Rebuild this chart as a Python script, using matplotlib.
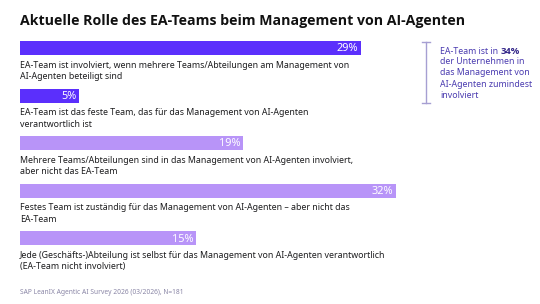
import matplotlib
matplotlib.use("Agg")
import matplotlib.pyplot as plt

# Daten
labels = [
    "EA-Team ist involviert, wenn mehrere Teams/Abteilungen am Management von\nAI-Agenten beteiligt sind",
    "EA-Team ist das feste Team, das für das Management von AI-Agenten\nverantwortlich ist",
    "Mehrere Teams/Abteilungen sind in das Management von AI-Agenten involviert,\naber nicht das EA-Team",
    "Festes Team ist zuständig für das Management von AI-Agenten – aber nicht das\nEA-Team",
    "Jede (Geschäfts-)Abteilung ist selbst für das Management von AI-Agenten verantwortlich\n(EA-Team nicht involviert)",
]
values = [29, 5, 19, 32, 15]
ea_involved = [True, True, False, False, False]

title = "Aktuelle Rolle des EA-Teams beim Management von AI-Agenten"
note_pre = "EA-Team ist in "
note_bold = "34%"
note_rest = "der Unternehmen in\ndas Management von\nAI-Agenten zumindest\ninvolviert"
source = "SAP LeanIX Agentic AI Survey 2026 (03/2026), N=181"

dark = "#5b2ffc"
light = "#b894f8"
txt = "#1d1d1f"
note_col = "#4a3bb0"

plt.rcParams["font.family"] = ["Noto Sans", "DejaVu Sans"]
bold_font = ["Open Sans", "DejaVu Sans"]

W, H = 540, 304
fig = plt.figure(figsize=(W / 100, H / 100), dpi=100)
fig.patch.set_facecolor("white")

px_per_pct = 11.75
x0 = 20
xmax = 40
row = 47.6
first = 48
ax = fig.add_axes([x0 / W, 0, xmax * px_per_pct / W, 1])
ax.set_xlim(0, xmax)
ax.set_ylim((H - first) / row, -first / row)
ax.axis("off")

ys = list(range(len(values)))
colors = [dark if e else light for e in ea_involved]
bar_h = 14 / row
ax.barh(ys, values, height=bar_h, color=colors, edgecolor="none")

for y, v, lab in zip(ys, values, labels):
    ax.annotate(f"{v}%", xy=(v, y), xytext=(-1.8, -0.5), textcoords="offset points",
                ha="right", va="center", color="white", fontsize=7.9)
    ax.annotate(lab, xy=(0, y + bar_h / 2), xytext=(0, -4), textcoords="offset points",
                ha="left", va="top", color=txt, fontsize=6.35, linespacing=1.35)

fig.text(x0 / W, 1 - 21 / H, title, ha="left", va="center", fontsize=10.2,
         fontweight="bold", family=bold_font, color="#111111")

# Klammer rechts
bx = 426 / W
y_top, y_bot = 1 - 42 / H, 1 - 103 / H
br = "#a69fd2"
fig.add_artist(plt.Line2D([bx, bx], [y_top, y_bot], color=br, lw=1))
for yy in (y_top, y_bot):
    fig.add_artist(plt.Line2D([bx - 4 / W, bx + 4 / W], [yy, yy], color=br, lw=1))

t1 = fig.text(440 / W, 1 - 51 / H, note_pre, ha="left", va="center", fontsize=6.3, color=note_col)
ax.annotate(note_bold, xy=(1, 0.5), xycoords=t1, ha="left", va="center",
            fontsize=6.8, color="#35288a", fontweight="bold", family=bold_font,
            annotation_clip=False)
fig.text(440 / W, 1 - 57 / H, note_rest, ha="left", va="top", fontsize=6.3,
         color=note_col, linespacing=1.35)

fig.text(x0 / W, 1 - 292 / H, source, ha="left", va="center", fontsize=4.8, color="#8a86a6")

fig.savefig("out.png", dpi=100, facecolor="white")
